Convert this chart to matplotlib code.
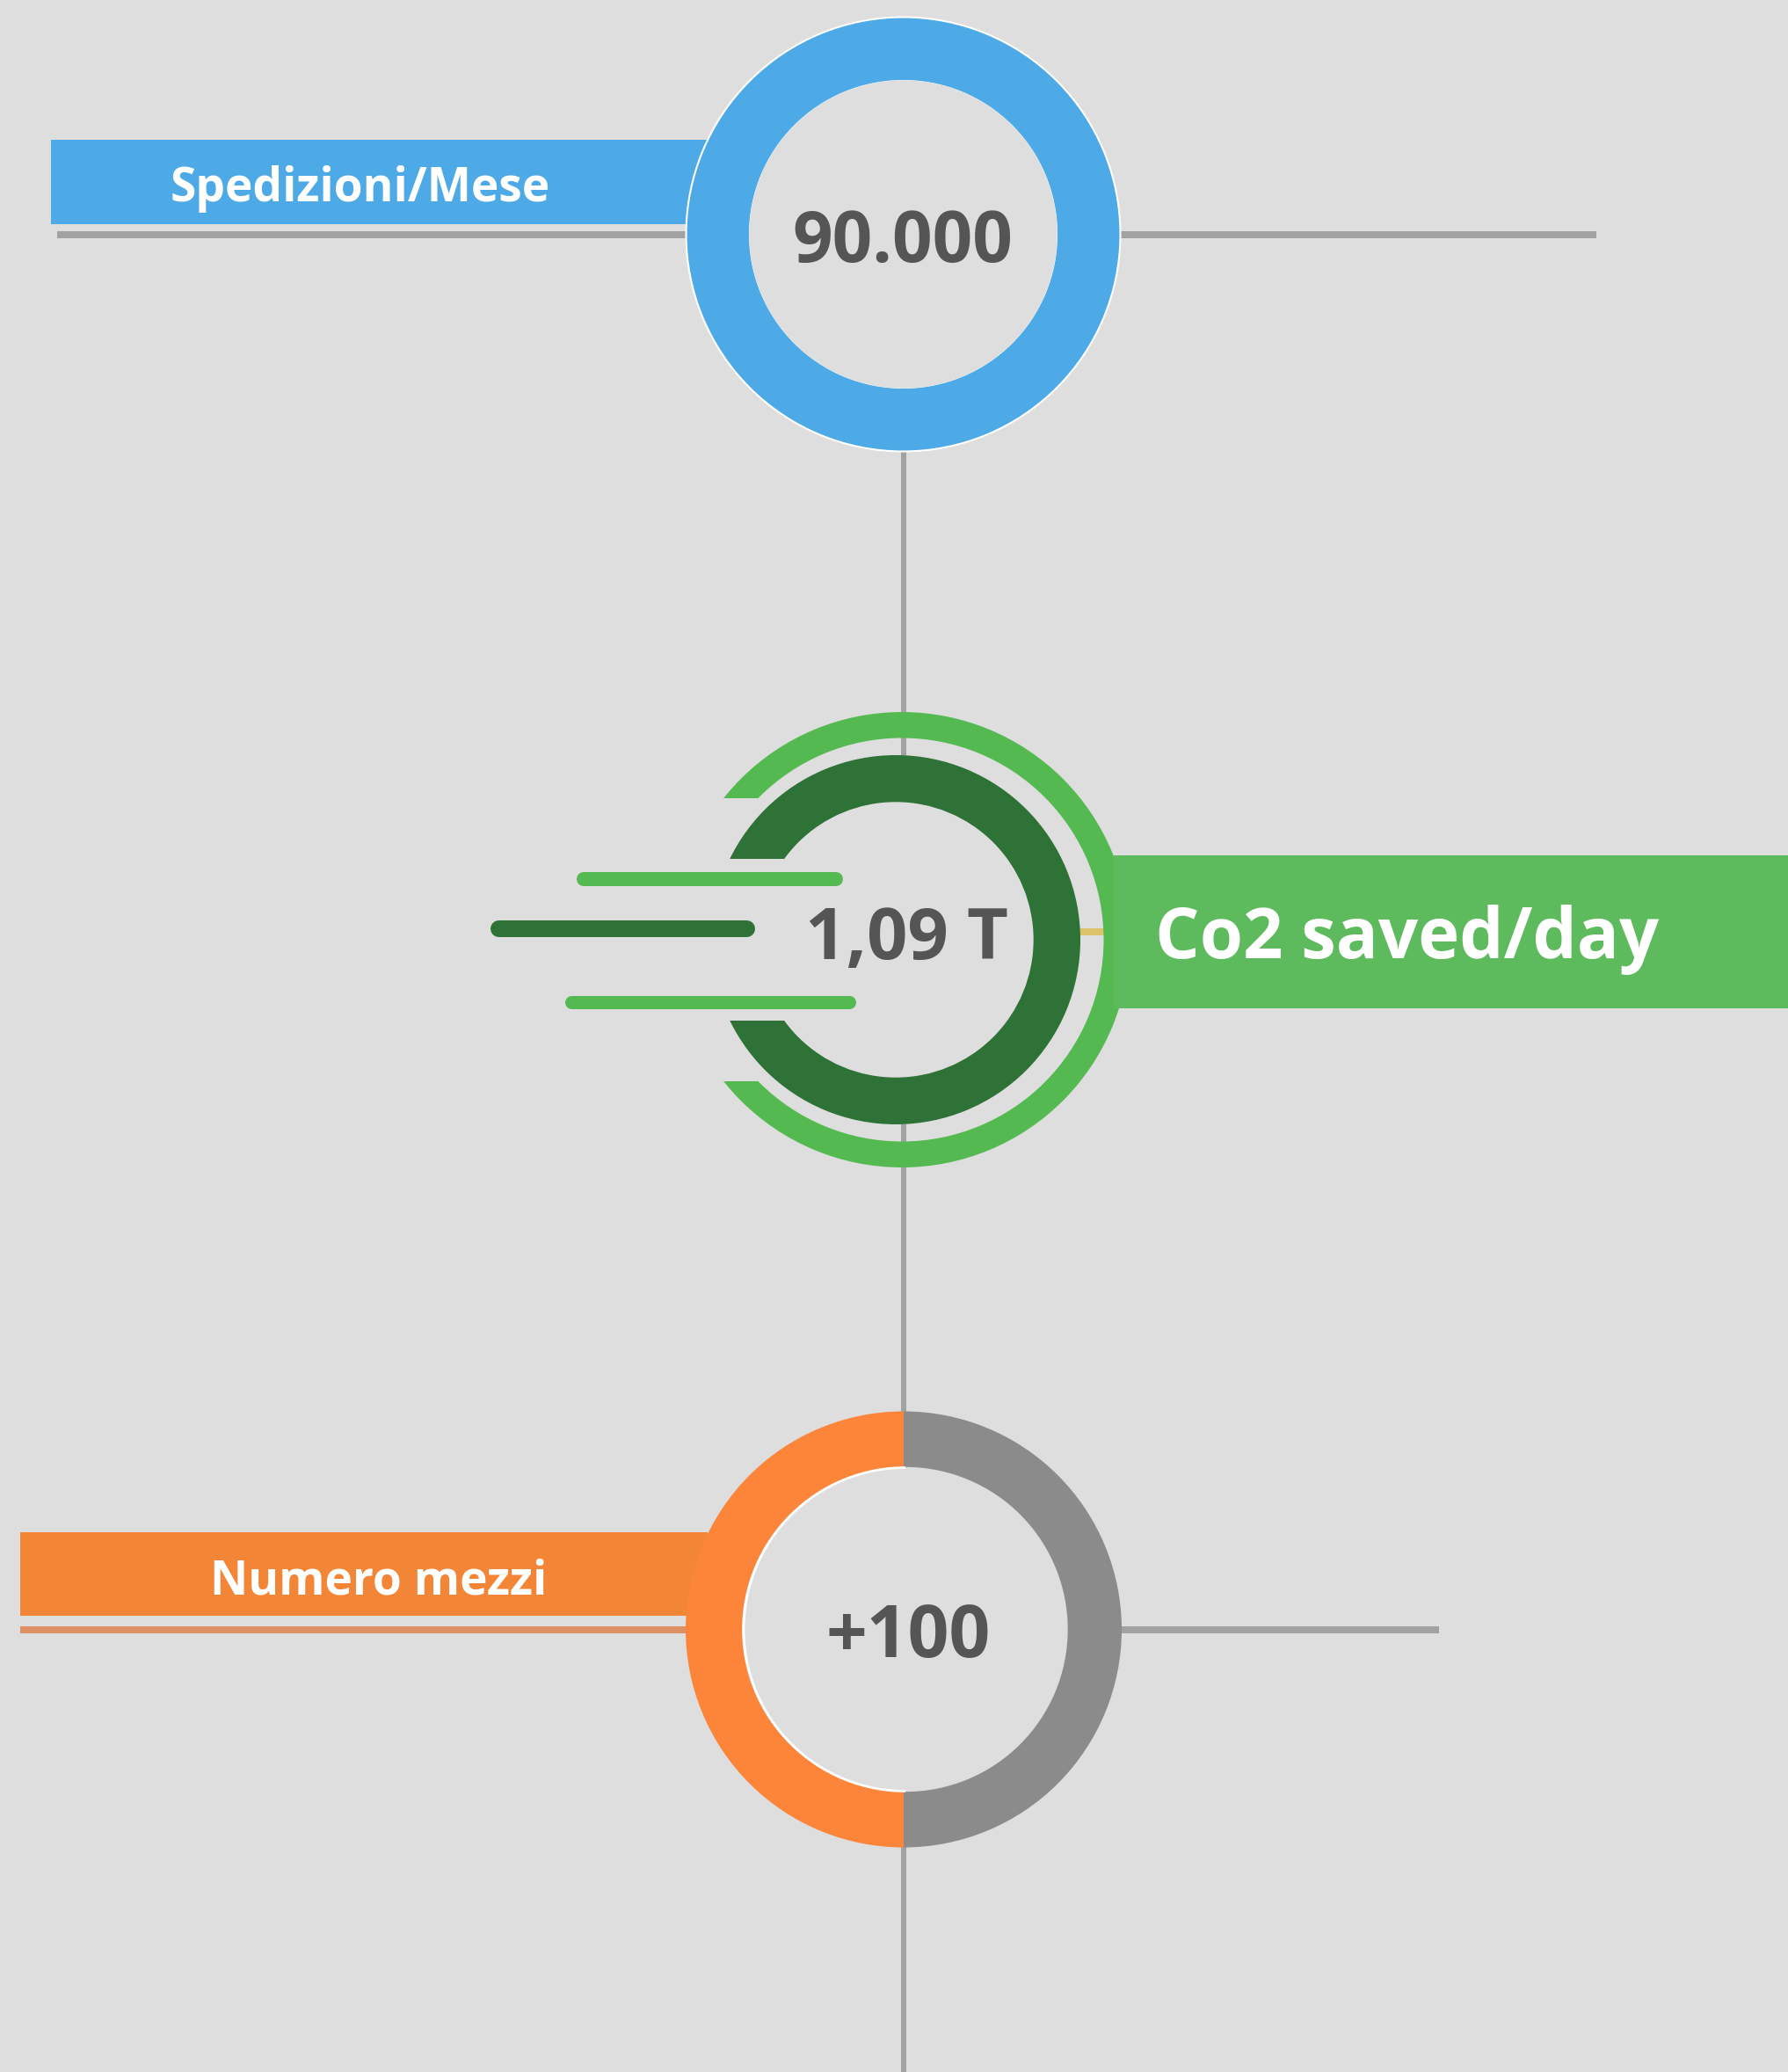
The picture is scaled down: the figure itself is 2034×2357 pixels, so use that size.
import matplotlib
matplotlib.use("Agg")
import matplotlib.pyplot as plt
from matplotlib.patches import Wedge, Circle, Rectangle, Polygon, Arc

# testi e valori dell'infografica
labels = ["Spedizioni/Mese", "Co2 saved/day", "Numero mezzi"]
values = ["90.000", "1,09 T", "+100"]

# colori
bg = "#dedede"
grey_line = "#a2a2a2"
txt = "#555555"
blue = "#4eaae7"
green_light = "#55b952"
green_box = "#5dba5d"
green_dark = "#2f7237"
orange = "#fd853a"
orange_box = "#f38536"
orange_line = "#de9064"
grey_ring = "#8a8b8a"
yellow = "#dcc36c"

W, H = 2034, 2357
DPI = 100
fig = plt.figure(figsize=(W / DPI, H / DPI), dpi=DPI, facecolor=bg)
ax = fig.add_axes([0, 0, 1, 1])
ax.set_xlim(0, W)
ax.set_ylim(H, 0)
ax.axis("off")
ax.set_facecolor(bg)

def px(p):
    # pixel -> punti
    return p * 72 / DPI

font = dict(family="Open Sans", weight="bold")

# linea verticale centrale
ax.plot([1028, 1028], [513, H], color=grey_line, lw=px(6), solid_capstyle="butt", zorder=1)

# ---------------- blocco 1: spedizioni ----------------
ax.add_patch(Rectangle((58, 159), 746, 95.5, color=blue, zorder=2, lw=0))
ax.plot([65, 790], [266.5, 266.5], color=grey_line, lw=px(8), solid_capstyle="butt", zorder=2)
ax.plot([1270, 1816], [266.5, 266.5], color=grey_line, lw=px(8), solid_capstyle="butt", zorder=2)
ax.add_patch(Wedge((1027.5, 266.5), 247, 0, 360, width=72.5, facecolor=blue,
                   edgecolor="white", lw=1.5, zorder=3))
ax.add_patch(Circle((1027.5, 266.5), 174.5, color=bg, zorder=3))
ax.text(410, 229, labels[0], color="white", fontsize=38.3, ha="center", va="baseline", zorder=5, **font)
ax.text(1027, 298, values[0], color=txt, fontsize=57.5, ha="center", va="baseline", zorder=5, **font)

# ---------------- blocco 2: CO2 ----------------
cx_l, cy_m = 1026, 1069
cx_d = 1019

def clip_left(cx, cy, h):
    # tutto tranne la fascia sinistra |y-cy|<h, x<cx
    verts = [(0, 0), (W, 0), (W, H), (0, H), (0, cy + h), (cx, cy + h), (cx, cy - h), (0, cy - h)]
    return Polygon(verts, closed=True, transform=ax.transData)

ax.plot([1225, 1260], [1060, 1060], color=yellow, lw=px(8), solid_capstyle="butt", zorder=2)

ring_l = Wedge((cx_l, cy_m), 259, 0, 360, width=29.5, color=green_light, lw=0, zorder=3)
ax.add_patch(ring_l)
ring_l.set_clip_path(clip_left(cx_l, cy_m, 161))

ring_d = Wedge((cx_d, cy_m), 210, 0, 360, width=54, color=green_dark, lw=0, zorder=3)
ax.add_patch(ring_d)
ring_d.set_clip_path(clip_left(cx_d, cy_m, 92))
ax.add_patch(Circle((cx_d, cy_m), 156, color=bg, zorder=3))

ax.add_patch(Rectangle((1267, 973), W - 1267, 174, color=green_box, lw=0, zorder=4))

# barre "velocita'"
bars = [(656, 959, 1000, 16, green_light),
        (557, 858, 1055.5, 19, green_dark),
        (642, 973, 1139.5, 15, green_light)]
for x0, x1, y, t, c in bars:
    ax.plot([x0 + t / 2, x1 - t / 2], [y, y], color=c, lw=px(t), solid_capstyle="round", zorder=4)

ax.text(1031.5, 1091, values[1], color=txt, fontsize=58.5, ha="center", va="baseline", zorder=5, **font)
ax.text(1314, 1090, labels[1], color="white", fontsize=57.3, ha="left", va="baseline", zorder=5, **font)

# ---------------- blocco 3: mezzi ----------------
cy_b = 1853.5
ax.add_patch(Rectangle((23, 1743), 782, 95, color=orange_box, lw=0, zorder=2))
ax.plot([23, 790], [cy_b, cy_b], color=orange_line, lw=px(8), solid_capstyle="butt", zorder=2)
ax.plot([1270, 1637], [cy_b, cy_b], color=grey_line, lw=px(8), solid_capstyle="butt", zorder=2)
ax.add_patch(Wedge((1028, cy_b), 248, 90, 270, width=64, color=orange, lw=0, zorder=3))
ax.add_patch(Wedge((1028, cy_b), 248, 270, 90, width=64, color=grey_ring, lw=0, zorder=3))
ax.add_patch(Circle((1030, cy_b), 184, color=bg, zorder=3))
ax.add_patch(Arc((1030, cy_b), 368, 368, theta1=90, theta2=270, color="white", lw=2, zorder=3))
ax.text(431, 1814, labels[2], color="white", fontsize=38.3, ha="center", va="baseline", zorder=5, **font)
ax.text(1033.5, 1885, values[2], color=txt, fontsize=59, ha="center", va="baseline", zorder=5, **font)

fig.savefig("out.png", dpi=DPI, facecolor=bg)
